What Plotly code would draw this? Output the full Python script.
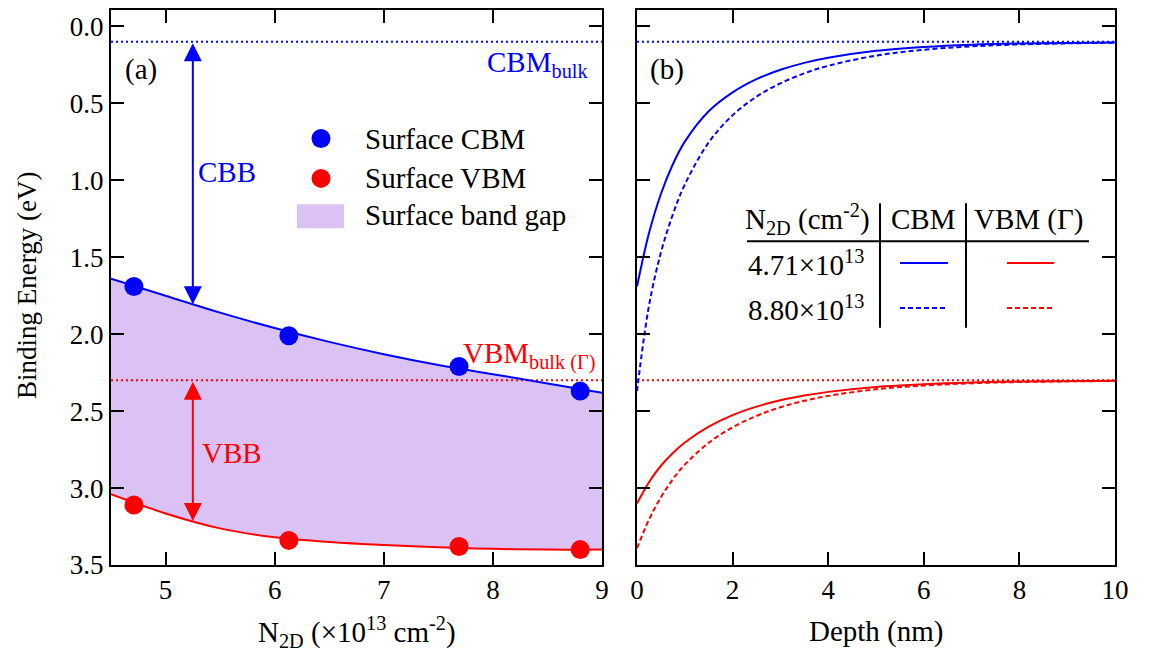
import numpy as np
import plotly.graph_objects as go

# ---------------- data ----------------
N2D = [4.71, 6.13, 7.69, 8.80]
surface_CBM = [1.69, 2.01, 2.21, 2.37]
surface_VBM = [3.11, 3.34, 3.38, 3.40]

fit_x = [4.5, 5.0, 5.5, 6.0, 6.5, 7.0, 7.5, 8.0, 8.5, 9.0]
fit_CBM = [1.64, 1.75, 1.86, 1.96, 2.05, 2.13, 2.20, 2.26, 2.32, 2.38]
fit_VBM = [3.04, 3.165, 3.262, 3.32, 3.35, 3.37, 3.385, 3.395, 3.40, 3.40]

CBM_bulk = 0.10
VBM_bulk = 2.30
arrow_x = 5.25

depth = [0, 0.25, 0.5, 0.75, 1, 1.5, 2, 2.5, 3, 3.5, 4, 5, 6, 7, 8, 10]
CBM_low = [1.69, 1.345, 1.089, 0.896, 0.749, 0.552, 0.429, 0.343, 0.282, 0.237, 0.204, 0.159, 0.134, 0.119, 0.111, 0.104]
CBM_high = [2.37, 1.816, 1.47, 1.222, 1.028, 0.754, 0.577, 0.457, 0.37, 0.305, 0.256, 0.19, 0.152, 0.13, 0.117, 0.106]
VBM_low = [3.10, 2.962, 2.855, 2.772, 2.704, 2.601, 2.526, 2.471, 2.43, 2.399, 2.375, 2.343, 2.325, 2.314, 2.308, 2.303]
VBM_high = [3.39, 3.206, 3.06, 2.943, 2.848, 2.706, 2.605, 2.531, 2.475, 2.433, 2.401, 2.358, 2.334, 2.319, 2.311, 2.304]

N2D_labels = ["4.71×10<sup>13</sup>", "8.80×10<sup>13</sup>"]

BLUE = "#0000FF"
RED = "#FF0000"
FILL = "#DAC2F5"
FONT = "Liberation Serif, Times New Roman, serif"
FS_TICK = 27
FS = 29

# ---------------- geometry helpers (screen pixel -> paper) ----------------
W, H = 1154, 655
OFF = 8  # page body offset
ML, MR, MT, MB = 103, 47, 0, 98
PW, PH = W - ML - MR, H - MT - MB


def px(x):
    return (x - OFF - ML) / PW


def py(y):
    return 1 - (y - OFF - MT) / PH


fig = go.Figure()

# ---- left panel ----
fig.add_trace(go.Scatter(x=fit_x, y=fit_VBM, mode="lines", line=dict(width=0, shape="spline"),
                         showlegend=False, hoverinfo="skip", xaxis="x", yaxis="y"))
fig.add_trace(go.Scatter(x=fit_x, y=fit_CBM, mode="lines", line=dict(width=0, shape="spline"),
                         fill="tonexty", fillcolor=FILL, showlegend=False, hoverinfo="skip",
                         xaxis="x", yaxis="y"))
fig.add_trace(go.Scatter(x=[4.5, 9], y=[CBM_bulk, CBM_bulk], mode="lines",
                         line=dict(color=BLUE, width=2, dash="2px,3px"), showlegend=False,
                         xaxis="x", yaxis="y"))
fig.add_trace(go.Scatter(x=[4.5, 9], y=[VBM_bulk, VBM_bulk], mode="lines",
                         line=dict(color=RED, width=2, dash="2px,3px"), showlegend=False,
                         xaxis="x", yaxis="y"))
fig.add_trace(go.Scatter(x=fit_x, y=fit_CBM, mode="lines", line=dict(color=BLUE, width=2, shape="spline"),
                         showlegend=False, xaxis="x", yaxis="y"))
fig.add_trace(go.Scatter(x=fit_x, y=fit_VBM, mode="lines", line=dict(color=RED, width=2, shape="spline"),
                         showlegend=False, xaxis="x", yaxis="y"))
fig.add_trace(go.Scatter(x=N2D, y=surface_CBM, mode="markers", marker=dict(color=BLUE, size=19),
                         name="Surface CBM", showlegend=False, xaxis="x", yaxis="y"))
fig.add_trace(go.Scatter(x=N2D, y=surface_VBM, mode="markers", marker=dict(color=RED, size=19),
                         name="Surface VBM", showlegend=False, xaxis="x", yaxis="y"))

# ---- right panel ----
fig.add_trace(go.Scatter(x=[0, 10], y=[CBM_bulk, CBM_bulk], mode="lines",
                         line=dict(color=BLUE, width=2, dash="2px,3px"), showlegend=False,
                         xaxis="x2", yaxis="y2"))
fig.add_trace(go.Scatter(x=[0, 10], y=[VBM_bulk, VBM_bulk], mode="lines",
                         line=dict(color=RED, width=2, dash="2px,3px"), showlegend=False,
                         xaxis="x2", yaxis="y2"))
for yv, col, dash in [(CBM_low, BLUE, "solid"), (CBM_high, BLUE, "5px,3px"),
                      (VBM_low, RED, "solid"), (VBM_high, RED, "5px,3px")]:
    fig.add_trace(go.Scatter(x=depth, y=yv, mode="lines",
                             line=dict(color=col, width=2, dash=dash, shape="spline", smoothing=1.0),
                             showlegend=False, xaxis="x2", yaxis="y2"))

# ---------------- axes ----------------
axis_common = dict(showgrid=False, zeroline=False, showline=True, linecolor="black", linewidth=2,
                   mirror="ticks", ticks="inside", ticklen=13, tickwidth=2, tickcolor="black",
                   tickfont=dict(family=FONT, size=FS_TICK, color="black"))
yr = [3.5, (6 - 22.5) / 155.0]

fig.update_layout(
    xaxis=dict(domain=[0, px(602)], range=[4.5, 9], tickvals=[5, 6, 7, 8, 9], anchor="y", **axis_common),
    yaxis=dict(domain=[0, 1], range=yr, tickvals=[0, 0.5, 1, 1.5, 2, 2.5, 3, 3.5],
               tickformat=".1f", anchor="x", **axis_common),
    xaxis2=dict(domain=[px(637), 1], range=[0, 10], tickvals=[0, 2, 4, 6, 8, 10], anchor="y2",
                **axis_common),
    yaxis2=dict(domain=[0, 1], range=yr, tickvals=[0, 0.5, 1, 1.5, 2, 2.5, 3, 3.5],
                showticklabels=False, anchor="x2", **axis_common),
)

# ---------------- annotations ----------------
ann = []


def text(x, y, s, color="black", xanchor="center", size=FS, angle=0):
    ann.append(dict(x=x, y=y, xref="paper", yref="paper", text=s, showarrow=False, xanchor=xanchor,
                    yanchor="middle", textangle=angle, font=dict(family=FONT, size=size, color=color)))


# axis titles
text(px(357), py(632), "N<sub>2D</sub> (×10<sup>13</sup> cm<sup>-2</sup>)")
text(px(876), py(632), "Depth (nm)")
text(px(27), py(285), "Binding Energy (eV)", angle=-90, size=27)

text(px(141), py(68), "(a)")
text(px(667), py(68), "(b)")
text(px(196), py(171), "CBB", color=BLUE, xanchor="left")
text(px(200), py(453), "VBB", color=RED, xanchor="left")
text(px(590), py(62), "CBM<sub>bulk</sub>", color=BLUE, xanchor="right")
text(px(597), py(355), "VBM<sub>bulk (Γ)</sub>", color=RED, xanchor="right")

# double-headed arrows (CBB, VBB)
cbm_at = float(np.interp(arrow_x, fit_x, fit_CBM))
vbm_at = float(np.interp(arrow_x, fit_x, fit_VBM))
for y0, y1, col in [(CBM_bulk, cbm_at, BLUE), (VBM_bulk, vbm_at, RED)]:
    ann.append(dict(x=arrow_x, y=y1, ax=arrow_x, ay=y0, xref="x", yref="y", axref="x", ayref="y",
                    showarrow=True, arrowhead=2, arrowside="end+start", arrowsize=1.8, arrowwidth=2,
                    arrowcolor=col, text=""))

# manual legend (left panel)
shapes = []
for cy, col, lab in [(137, BLUE, "Surface CBM"), (177, RED, "Surface VBM")]:
    shapes.append(dict(type="circle", xref="paper", yref="paper", xsizemode="pixel", ysizemode="pixel",
                       xanchor=px(321), yanchor=py(cy), x0=-9.5, x1=9.5, y0=-9.5, y1=9.5,
                       fillcolor=col, line=dict(width=0)))
    text(px(363), py(cy), lab, xanchor="left")
shapes.append(dict(type="rect", xref="paper", yref="paper", x0=px(297), x1=px(344), y0=py(227), y1=py(203),
                   fillcolor=FILL, line=dict(width=0)))
text(px(363), py(214), "Surface band gap", xanchor="left")

# table legend (right panel)
shapes.append(dict(type="line", xref="paper", yref="paper", x0=px(880), x1=px(880), y0=py(202), y1=py(327),
                   line=dict(color="black", width=2)))
shapes.append(dict(type="line", xref="paper", yref="paper", x0=px(966), x1=px(966), y0=py(202), y1=py(327),
                   line=dict(color="black", width=2)))
shapes.append(dict(type="line", xref="paper", yref="paper", x0=px(747), x1=px(1089), y0=py(240), y1=py(240),
                   line=dict(color="black", width=2)))
text(px(807), py(218), "N<sub>2D</sub> (cm<sup>-2</sup>)")
text(px(923), py(218), "CBM")
text(px(1028), py(218), "VBM (Γ)")
for row_y, lab, dash in [(262, N2D_labels[0], "solid"), (307, N2D_labels[1], "dash")]:
    text(px(806), py(row_y), lab)
    for x0, x1, col in [(900, 948, BLUE), (1007, 1054, RED)]:
        shapes.append(dict(type="line", xref="paper", yref="paper", x0=px(x0), x1=px(x1),
                           y0=py(row_y), y1=py(row_y),
                           line=dict(color=col, width=2, dash="solid" if dash == "solid" else "5px,3px")))

fig.update_layout(
    width=W, height=H, margin=dict(l=ML, r=MR, t=MT, b=MB),
    paper_bgcolor="white", plot_bgcolor="white",
    annotations=ann, shapes=shapes, showlegend=False,
    font=dict(family=FONT, size=FS, color="black"),
)

fig.write_html("out.html")
